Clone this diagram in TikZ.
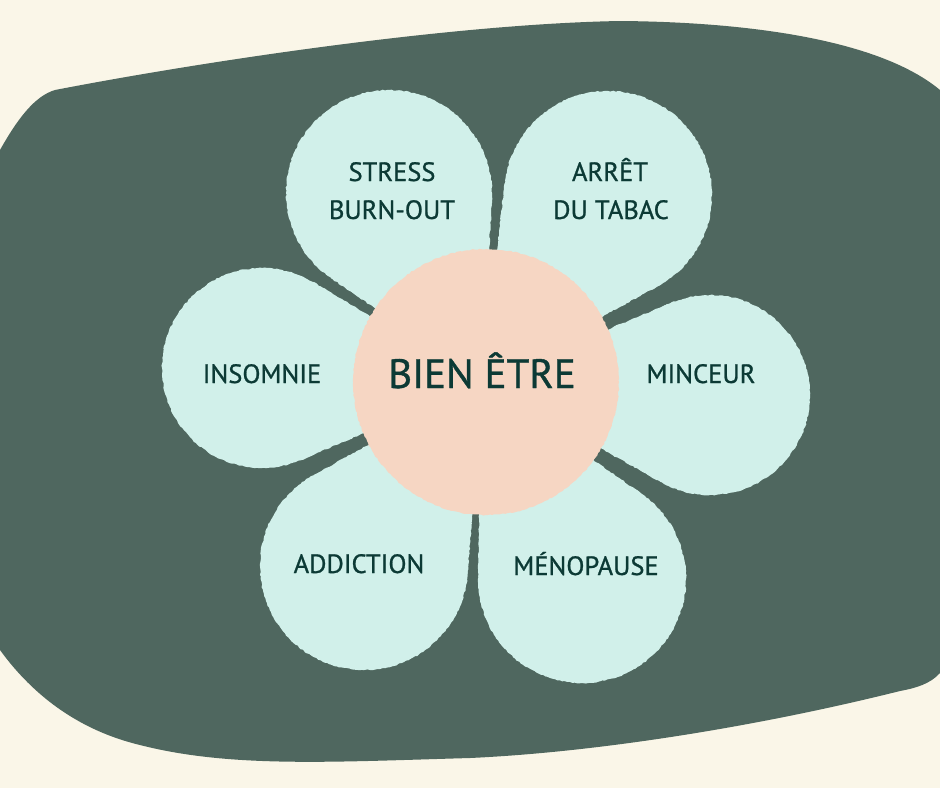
\documentclass[tikz,border=0pt]{standalone}
\usepackage{fontspec}
\setmainfont{PT Sans}
\newfontfamily\lblfont{PT Sans}[FakeBold=0.9]
\usetikzlibrary{calc,decorations.pathmorphing}
\definecolor{cream}{HTML}{FAF6E8}
\definecolor{blobgreen}{HTML}{4F675F}
\definecolor{mint}{HTML}{D1F0EA}
\definecolor{peach}{HTML}{F6D6C3}
\definecolor{ink}{HTML}{0C3A35}
\pgfmathsetseed{7}
\newcommand{\mypetal}[3]{%
  \pgfmathsetmacro{\pdx}{(#1-482)/100}%
  \pgfmathsetmacro{\pdy}{(#2-382)/100}%
  \pgfmathsetmacro{\pd}{100*sqrt(\pdx*\pdx+\pdy*\pdy)}%
  \pgfmathsetmacro{\pa}{atan2(\pdy,\pdx)}%
  \pgfmathsetmacro{\pb}{acos(#3/\pd)}%
  \fill[rough,mint] (482,382) -- ($(#1,#2)+(\pa+180-\pb:#3)$) -- ($(#1,#2)+(\pa+180+\pb:#3)$) -- cycle;
  \fill[rough,mint] (#1,#2) circle[radius=#3];
}
\begin{document}
\begin{tikzpicture}[x=1pt,y=-1pt,
  rough/.style={decorate,decoration={random steps,segment length=2.5pt,amplitude=0.6pt}},
  lbl/.style={text=ink,font=\lblfont\fontsize{26.5}{30}\selectfont,anchor=base,inner sep=0pt},
  biglbl/.style={text=ink,font=\lblfont\fontsize{41}{44}\selectfont,anchor=base,inner sep=0pt}]
\useasboundingbox (0,0) rectangle (940,788);
\fill[cream] (0,0) rectangle (940,788);
\fill[blobgreen] (0,150) .. controls (18,118) and (35,96) .. (55,90)
  .. controls (200,62) and (450,24) .. (620,21)
  .. controls (750,22) and (880,40) .. (940,90)
  -- (940,673) .. controls (930,684) and (916,688) .. (900,691)
  .. controls (760,726) and (600,752) .. (470,758)
  .. controls (330,762) and (230,768) .. (140,745)
  .. controls (90,733) and (40,705) .. (0,650) -- cycle;
\mypetal{389}{193}{103}
\mypetal{608}{195}{104}
\mypetal{710}{395}{100}
\mypetal{582}{579}{104}
\mypetal{364}{566}{104}
\mypetal{262}{368}{100}
\fill[rough,peach] (486,382) circle[radius=133];
\node[lbl] (stress) at (392,181) {STRESS};
\node[lbl] (burnout) at (392,219) {BURN-OUT};
\node[lbl] (arret) at (610,181) {ARRÊT};
\node[lbl] (tabac) at (611,219) {DU TABAC};
\node[lbl] (insomnie) at (262,383) {INSOMNIE};
\node[lbl] (minceur) at (701,383) {MINCEUR};
\node[lbl] (addiction) at (359,573) {ADDICTION};
\node[lbl] (menopause) at (586,575) {MÉNOPAUSE};
\node[biglbl] (bien) at (482,388) {BIEN ÊTRE};
\end{tikzpicture}
\end{document}
